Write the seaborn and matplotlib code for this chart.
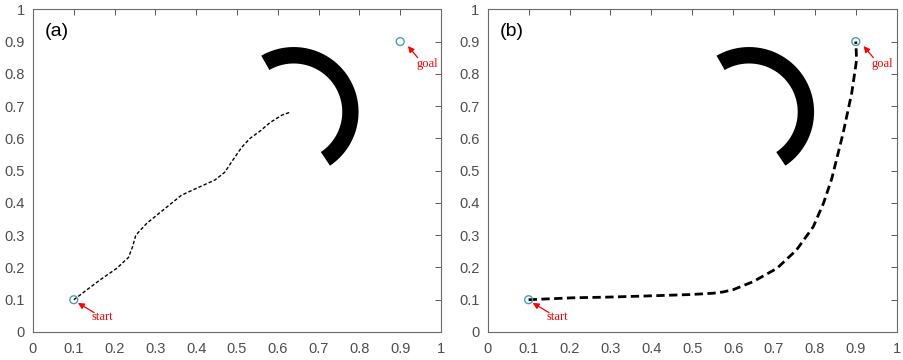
import numpy as np
import pandas as pd
import seaborn as sns
import matplotlib.pyplot as plt
from matplotlib.ticker import FuncFormatter

# path (a): trapped path, ends inside the arc
path_a_x = [0.100, 0.164, 0.205, 0.234, 0.244, 0.252, 0.279, 0.319, 0.364, 0.409,
            0.446, 0.470, 0.490, 0.512, 0.532, 0.556, 0.581, 0.610, 0.632]
path_a_y = [0.100, 0.161, 0.197, 0.231, 0.264, 0.300, 0.337, 0.378, 0.424, 0.450,
            0.471, 0.495, 0.533, 0.573, 0.600, 0.622, 0.649, 0.672, 0.682]

# path (b): reaches the goal
path_b_x = [0.100, 0.209, 0.291, 0.372, 0.495, 0.550, 0.575, 0.600, 0.649, 0.707,
            0.755, 0.796, 0.821, 0.841, 0.869, 0.890, 0.902, 0.900]
path_b_y = [0.100, 0.106, 0.108, 0.111, 0.116, 0.120, 0.124, 0.131, 0.156, 0.197,
            0.254, 0.326, 0.399, 0.474, 0.616, 0.740, 0.843, 0.900]

start = (0.1, 0.1)
goal = (0.9, 0.9)

# arc-shaped obstacle
obs_center = (0.639, 0.682)
obs_outer = (0.159, 0.201)
obs_inner = (0.119, 0.150)
obs_angles = (-56, 120)

panel_labels = ['(a)', '(b)']
tick_vals = [0, 0.1, 0.2, 0.3, 0.4, 0.5, 0.6, 0.7, 0.8, 0.9, 1]

sns.set_style('white')
plt.rcParams['font.family'] = ['Liberation Sans', 'DejaVu Sans']

fig = plt.figure(figsize=(9.04, 3.6), dpi=100)
ax1 = fig.add_axes([0.0365, 0.0778, 0.4513, 0.8964])
ax2 = fig.add_axes([0.5395, 0.0778, 0.4524, 0.8964])

paths = [(path_a_x, path_a_y, 1.0, (0, (2.5, 1.5))),
         (path_b_x, path_b_y, 2.0, (0, (3, 1.6)))]

for ax, (px, py, lw, ls), lab in zip([ax1, ax2], paths, panel_labels):
    # obstacle
    t = np.radians(np.linspace(obs_angles[0], obs_angles[1], 200))
    xs = np.concatenate([obs_center[0] + obs_outer[0] * np.cos(t),
                         obs_center[0] + obs_inner[0] * np.cos(t[::-1])])
    ys = np.concatenate([obs_center[1] + obs_outer[1] * np.sin(t),
                         obs_center[1] + obs_inner[1] * np.sin(t[::-1])])
    ax.fill(xs, ys, color='black', lw=0)

    df = pd.DataFrame({'x': px, 'y': py})
    sns.lineplot(data=df, x='x', y='y', sort=False, estimator=None,
                 color='black', lw=lw, linestyle=ls, ax=ax)

    pts = pd.DataFrame({'x': [start[0], goal[0]], 'y': [start[1], goal[1]]})
    sns.scatterplot(data=pts, x='x', y='y', s=32, marker='o',
                    facecolors='none', edgecolor='#4f9bb5', linewidth=1.0,
                    ax=ax, zorder=5)

    # red arrows + labels
    arrow = dict(arrowstyle='-|>', color='red', lw=0.9, mutation_scale=9,
                 shrinkA=0, shrinkB=0)
    ax.annotate('', xy=(0.110, 0.090), xytext=(0.150, 0.060), arrowprops=arrow)
    ax.text(0.143, 0.048, 'start', ha='left', va='center', color='red',
            fontsize=9, family='Liberation Serif')
    ax.annotate('', xy=(0.919, 0.886), xytext=(0.943, 0.850), arrowprops=arrow)
    ax.text(0.939, 0.832, 'goal', ha='left', va='center', color='red',
            fontsize=9, family='Liberation Serif')

    ax.text(0.029, 0.932, lab, transform=ax.transAxes, fontsize=14,
            ha='left', va='center', color='black')

    ax.set_xlim(0, 1)
    ax.set_ylim(0, 1)
    ax.set_xticks(tick_vals)
    ax.set_yticks(tick_vals)
    fmt = FuncFormatter(lambda v, p: '%g' % v)
    ax.xaxis.set_major_formatter(fmt)
    ax.yaxis.set_major_formatter(fmt)
    ax.set_xlabel('')
    ax.set_ylabel('')
    ax.tick_params(direction='in', top=True, right=True, length=4, width=0.7,
                   color='#595959', labelcolor='#4d4d4d', labelsize=10.5)
    ax.tick_params(axis='x', pad=7)
    ax.tick_params(axis='y', pad=6)
    for sp in ax.spines.values():
        sp.set_visible(True)
        sp.set_color('#6a6a6a')
        sp.set_linewidth(0.8)

fig.savefig('out.png', dpi=100)
